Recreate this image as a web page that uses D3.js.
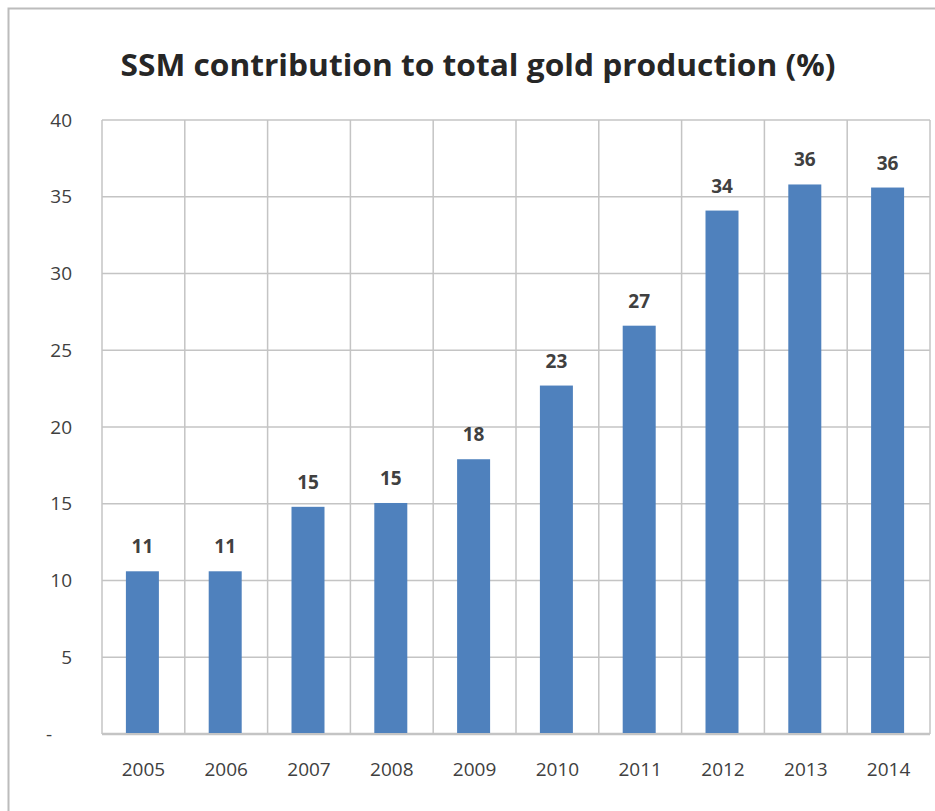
<!DOCTYPE html>
<html>
<head>
<meta charset="utf-8">
<script src="https://cdn.jsdelivr.net/npm/d3@7"></script>
<style>
  body { margin: 0; background: #fff; }
  text { font-family: "Open Sans", "Noto Sans", sans-serif; }
</style>
</head>
<body>
<div id="chart"></div>
<script>
(function() {

    // data
    var years = ["2005", "2006", "2007", "2008", "2009", "2010", "2011", "2012", "2013", "2014"];
    var shares = [10.6, 10.6, 14.8, 15.05, 17.9, 22.7, 26.6, 34.1, 35.8, 35.6];
    var yTicks = [0, 5, 10, 15, 20, 25, 30, 35, 40];
    var title = "SSM contribution to total gold production (%)";

    var width = 935;
    var height = 811;
    var margin = {top: 120, right: 5, bottom: 77, left: 102};

    var svg = d3.select("#chart")
        .append("svg")
        .attr("width", width)
        .attr("height", height);

    // outer frame (only top and left edges show)
    svg.append("path")
        .attr("d", "M8.5,811 V8.5 H935")
        .attr("fill", "none")
        .attr("stroke", "#bcbcbc")
        .attr("stroke-width", 2);

    var x = d3.scaleBand()
        .domain(years)
        .range([margin.left, width - margin.right])
        .paddingInner(0)
        .paddingOuter(0);

    var y = d3.scaleLinear()
        .domain([0, 40])
        .range([height - margin.bottom, margin.top]);

    var gridColor = "#c4c4c4";

    // horizontal gridlines
    svg.append("g")
        .selectAll("line")
        .data(yTicks)
        .enter().append("line")
        .attr("x1", margin.left)
        .attr("x2", width - margin.right)
        .attr("y1", d => y(d))
        .attr("y2", d => y(d))
        .attr("stroke", gridColor)
        .attr("stroke-width", d => d === 0 ? 2.5 : 1.5);

    // vertical gridlines at category edges
    var edges = years.map(d => x(d)).concat([x(years[years.length - 1]) + x.bandwidth()]);
    svg.append("g")
        .selectAll("line")
        .data(edges)
        .enter().append("line")
        .attr("x1", d => d)
        .attr("x2", d => d)
        .attr("y1", y(40))
        .attr("y2", y(0))
        .attr("stroke", gridColor)
        .attr("stroke-width", 1.5);

    // y axis labels
    var yAxis = d3.axisLeft(y)
        .tickValues(yTicks)
        .tickSize(0)
        .tickPadding(30)
        .tickFormat(d => d === 0 ? "-" : d);

    svg.append("g")
        .attr("transform", "translate(" + margin.left + ",0)")
        .call(yAxis)
        .call(g => g.select(".domain").remove())
        .call(g => g.selectAll("text")
            .attr("font-family", "'Open Sans', sans-serif")
            .attr("font-size", 19)
            .attr("fill", "#404040"));

    // the "-" zero label sits left of the numbers
    svg.selectAll(".tick text").filter(d => d === 0)
        .attr("dx", -20);

    // x axis labels
    var xAxis = d3.axisBottom(x)
        .tickSize(0)
        .tickPadding(29);

    svg.append("g")
        .attr("transform", "translate(0," + y(0) + ")")
        .call(xAxis)
        .call(g => g.select(".domain").remove())
        .call(g => g.selectAll("text")
            .attr("font-family", "'Open Sans', sans-serif")
            .attr("font-size", 19)
            .attr("fill", "#404040"));

    var barW = 33;

    svg.append("g")
        .selectAll("rect")
        .data(shares)
        .enter().append("rect")
        .attr("x", (d, i) => x(years[i]) + x.bandwidth() / 2 - barW / 2 - 1)
        .attr("y", d => y(d))
        .attr("width", barW)
        .attr("height", d => y(0) - y(d) - 1)
        .attr("fill", "#4f81bd");

    // value labels
    svg.append("g")
        .selectAll("text")
        .data(shares)
        .enter().append("text")
        .attr("x", (d, i) => x(years[i]) + x.bandwidth() / 2 - 1)
        .attr("y", d => y(d) - 18)
        .attr("text-anchor", "middle")
        .attr("font-size", 19)
        .attr("font-weight", "bold")
        .attr("fill", "#404040")
        .text(d => Math.round(d));

    svg.append("text")
        .attr("x", 478)
        .attr("y", 76)
        .attr("text-anchor", "middle")
        .attr("font-size", 31)
        .attr("font-weight", "bold")
        .attr("fill", "#262626")
        .attr("textLength", 715)
        .attr("lengthAdjust", "spacingAndGlyphs")
        .text(title);

})();
</script>
</body>
</html>
